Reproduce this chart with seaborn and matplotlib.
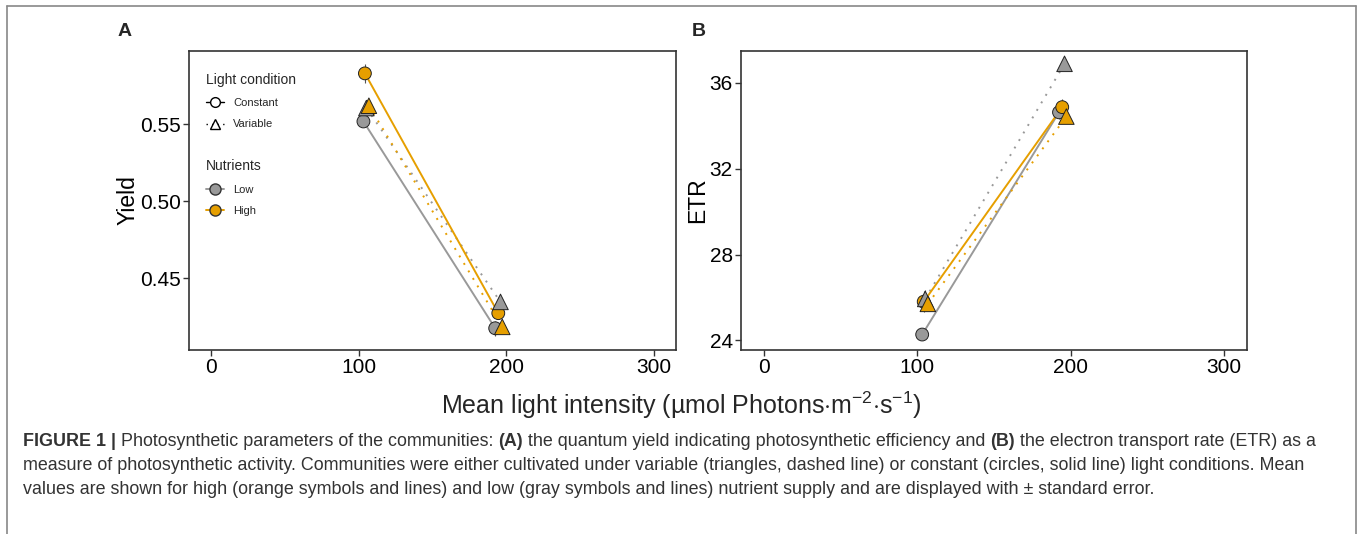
import numpy as np
import pandas as pd
import matplotlib
matplotlib.use('Agg')
import matplotlib.pyplot as plt
from matplotlib.lines import Line2D
import seaborn as sns

#----------------------------------------
# groups in drawing order: (nutrients, light condition)
group_nutr = ['Low', 'High', 'Low', 'High']
group_light = ['Constant', 'Constant', 'Variable', 'Variable']

# mean light intensity (two treatments ~100 and ~200) for each group
light_vals = [[103.2, 192.5], [104.2, 194.6], [105.2, 196.1], [106.9, 197.3]]

# panel A: yield
yield_vals = [[0.5517, 0.4175], [0.5829, 0.4273], [0.5604, 0.4346], [0.5619, 0.4184]]
yield_se = [[0.002, 0.005], [0.006, 0.003], [0.003, 0.002], [0.004, 0.003]]

# panel B: ETR
etr_vals = [[24.27, 34.63], [25.80, 34.87], [25.93, 36.89], [25.70, 34.43]]
etr_se = [[0.2, 0.3], [0.5, 0.4], [0.4, 0.15], [0.3, 0.3]]

caption_lines = [
    [('FIGURE 1 | ', True), ('Photosynthetic parameters of the communities: ', False), ('(A)', True),
     (' the quantum yield indicating photosynthetic efficiency and ', False), ('(B)', True),
     (' the electron transport rate (ETR) as a', False)],
    [('measure of photosynthetic activity. Communities were either cultivated under variable (triangles, dashed line) '
      'or constant (circles, solid line) light conditions. Mean', False)],
    [('values are shown for high (orange symbols and lines) and low (gray symbols and lines) nutrient supply '
      'and are displayed with \u00b1 standard error.', False)],
]
#----------------------------------------

rows = []
for g in range(4):
    for i in range(2):
        rows.append({'Nutrients': group_nutr[g], 'Light': group_light[g], 'light': light_vals[g][i],
                     'Yield': yield_vals[g][i], 'Yield_se': yield_se[g][i],
                     'ETR': etr_vals[g][i], 'ETR_se': etr_se[g][i]})
df = pd.DataFrame(rows)
print(df)

pal = {'Low': '#999999', 'High': '#E69F00'}

sns.set_theme(style='white')
plt.rcParams['font.family'] = ['Liberation Sans', 'DejaVu Sans']
plt.rcParams['mathtext.fontset'] = 'custom'
plt.rcParams['mathtext.rm'] = 'Liberation Sans'

fig = plt.figure(figsize=(13.6, 5.34), dpi=100)
axA = fig.add_axes([0.139, 0.3446, 0.358, 0.5604])
axB = fig.add_axes([0.5449, 0.3446, 0.3718, 0.5604])


def panel(ax, col, ylim, yticks, fmt):
    sns.lineplot(data=df, x='light', y=col, hue='Nutrients', style='Light',
                 hue_order=['Low', 'High'], style_order=['Constant', 'Variable'],
                 palette=pal, dashes={'Constant': '', 'Variable': (1, 3.5)},
                 lw=1.4, errorbar=None, legend=False, ax=ax)
    ax.vlines(df['light'], df[col] - df[col + '_se'], df[col] + df[col + '_se'],
              colors='#555555', lw=0.8, zorder=2.5)
    sns.scatterplot(data=df, x='light', y=col, hue='Nutrients', style='Light', size='Light',
                    hue_order=['Low', 'High'], style_order=['Constant', 'Variable'],
                    markers={'Constant': 'o', 'Variable': '^'}, palette=pal,
                    sizes={'Constant': 85, 'Variable': 125},
                    edgecolor='#222222', linewidth=0.7, legend=False, ax=ax, zorder=3)
    ax.set_xlim(-15, 315)
    ax.set_ylim(*ylim)
    ax.set_xticks([0, 100, 200, 300])
    ax.set_yticks(yticks)
    ax.set_yticklabels([fmt.format(v) for v in yticks])
    ax.set_xlabel('')
    for s in ax.spines.values():
        s.set_visible(True)
        s.set_color('#333333')
        s.set_linewidth(1.2)
    ax.tick_params(direction='out', length=4, width=1, color='#333333', labelsize=15,
                   labelcolor='black', left=True, bottom=True, pad=2)


panel(axA, 'Yield', (0.4034, 0.5976), [0.45, 0.50, 0.55], '{:.2f}')
panel(axB, 'ETR', (23.55, 37.5), [24, 28, 32, 36], '{:.0f}')

axA.set_ylabel('Yield', fontsize=16.5, color='black')
axA.yaxis.set_label_coords(-0.102, 0.5)
axB.set_ylabel('ETR', fontsize=16.5, color='black')
axB.yaxis.set_label_coords(-0.063, 0.5)

# legends inside panel A
light_handles = [Line2D([], [], color='black', lw=1, marker='o', ms=7, mfc='white', mec='black', ls='-'),
                 Line2D([], [], color='black', lw=1, marker='^', ms=7, mfc='white', mec='black', ls=(0, (1, 3)))]
leg1 = axA.legend(light_handles, ['Constant', 'Variable'], title='Light condition', loc='upper left',
                  bbox_to_anchor=(0.015, 0.96), frameon=False, fontsize=8, title_fontsize=10,
                  handlelength=1.6, handletextpad=0.8, labelspacing=1.05, alignment='left')
leg1._legend_box.sep = 8
axA.add_artist(leg1)
nutr_handles = [Line2D([], [], color=pal['Low'], lw=1.4, marker='o', ms=8, mfc=pal['Low'], mec='#333333'),
                Line2D([], [], color=pal['High'], lw=1.4, marker='o', ms=8, mfc=pal['High'], mec='#333333')]
leg2 = axA.legend(nutr_handles, ['Low', 'High'], title='Nutrients', loc='upper left',
                  bbox_to_anchor=(0.015, 0.67), frameon=False, fontsize=8, title_fontsize=10,
                  handlelength=1.6, handletextpad=0.8, labelspacing=1.05, alignment='left')
leg2._legend_box.sep = 8

fig.text(125 / 1360, 1 - 32 / 534, 'A', fontsize=14, fontweight='bold', ha='center', va='center')
fig.text(699 / 1360, 1 - 32 / 534, 'B', fontsize=14, fontweight='bold', ha='center', va='center')

fig.text(0.5007, 1 - 405 / 534,
         'Mean light intensity (\u00b5mol Photons$\\cdot$m$^{-2}$$\\cdot$s$^{-1}$)',
         fontsize=18, ha='center', va='center')

# caption with bold parts
renderer = fig.canvas.get_renderer()
line_y = [1 - 442 / 534, 1 - 466 / 534, 1 - 490 / 534]
for parts, y in zip(caption_lines, line_y):
    x = 23 / 1360
    for txt, bold in parts:
        t = fig.text(x, y, txt, fontsize=12.9, color='#333333', va='center',
                     fontweight='bold' if bold else 'normal')
        x += t.get_window_extent(renderer=renderer).width / fig.bbox.width

# outer frame
fx0, fx1, fy1 = 7.3 / 1360, 1355.7 / 1360, 1 - 6 / 534
for xs, ys in [([fx0, fx0], [0, fy1]), ([fx0, fx1], [fy1, fy1]), ([fx1, fx1], [fy1, 0])]:
    fig.add_artist(Line2D(xs, ys, color='#888888', lw=1.2, transform=fig.transFigure))

fig.savefig('out.png', dpi=100)
